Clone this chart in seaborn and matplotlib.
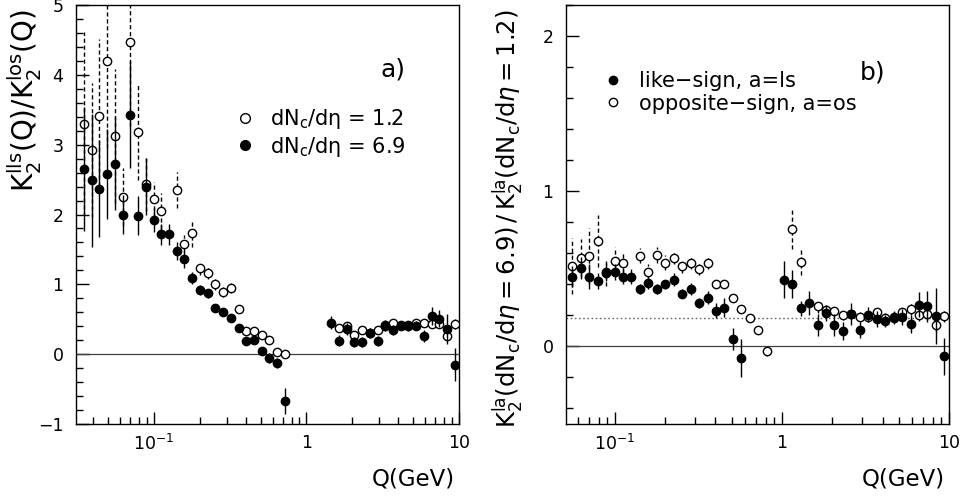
import numpy as np
import pandas as pd
import matplotlib
matplotlib.use("Agg")
import matplotlib.pyplot as plt
import seaborn as sns
from matplotlib.lines import Line2D
from matplotlib.ticker import (FixedLocator, FixedFormatter, LogLocator,
                               MultipleLocator, NullFormatter)

nan = np.nan

# Q bin centres (GeV)
Q = [0.0348, 0.0391, 0.0439, 0.0494, 0.0555, 0.0623, 0.0701, 0.0787, 0.0885,
     0.0994, 0.1117, 0.1255, 0.1410, 0.1585, 0.1781, 0.2001, 0.2249, 0.2527,
     0.2839, 0.3190, 0.3585, 0.4029, 0.4527, 0.5087, 0.5716, 0.6423, 0.7218,
     0.8111, 0.9114, 1.024, 1.151, 1.293, 1.453, 1.633, 1.835, 2.062, 2.317,
     2.603, 2.925, 3.287, 3.694, 4.151, 4.664, 5.241, 5.890, 6.618, 7.437,
     8.357, 9.391]

# ---- panel a) : K2^lls / K2^los ----
a_low = [3.30, 2.92, 3.41, 4.20, 3.13, 2.25, 4.47, 3.18, 2.44, 2.22, 2.05, nan,
         2.35, 1.58, 1.73, 1.23, 1.16, 1.00, 0.89, 0.95, 0.64, 0.33, 0.33, 0.28,
         0.20, 0.03, 0.00, nan, nan, nan, nan, nan, nan, 0.37, 0.40, 0.27, 0.35,
         0.31, 0.35, 0.40, 0.45, 0.42, 0.42, 0.45, 0.45, 0.43, 0.43, 0.26, 0.43]
a_low_err = [1.32, 0.96, 1.10, 1.25, 0.96, 0.41, 1.20, 0.68, 0.39, 0.25, 0.26, nan,
             0.26, 0.12, 0.19, 0.10, 0.09, 0.08, 0.07, 0.07, 0.05, 0.04, 0.04, 0.04,
             0.04, 0.04, 0.04, nan, nan, nan, nan, nan, nan, 0.05, 0.05, 0.05, 0.05,
             0.05, 0.05, 0.05, 0.05, 0.05, 0.05, 0.05, 0.05, 0.05, 0.05, 0.07, 0.07]
a_high = [2.65, 2.49, 2.37, 2.58, 2.73, 2.00, 3.43, 1.98, 2.40, 1.92, 1.72, 1.72,
          1.48, 1.36, 1.09, 0.92, 0.87, 0.66, 0.61, 0.52, 0.37, 0.19, 0.21, 0.05,
          -0.06, -0.13, -0.67, nan, nan, nan, nan, nan, 0.45, 0.19, 0.36, 0.17,
          0.17, 0.305, 0.19, 0.415, 0.35, 0.41, 0.40, 0.41, 0.26, 0.55, 0.51,
          0.36, -0.15]
a_high_err = [0.89, 0.95, 0.69, 0.65, 0.66, 0.28, 0.77, 0.28, 0.41, 0.17, 0.15, 0.15,
              0.13, 0.12, 0.09, 0.07, 0.07, 0.05, 0.05, 0.05, 0.04, 0.04, 0.04, 0.05,
              0.07, 0.07, 0.19, nan, nan, nan, nan, nan, 0.09, 0.08, 0.08, 0.07,
              0.07, 0.07, 0.07, 0.08, 0.07, 0.07, 0.07, 0.07, 0.08, 0.13, 0.12,
              0.22, 0.24]

# ---- panel b) : K2^la(6.9) / K2^la(1.2) ----
b_ls = [nan, nan, nan, nan, 0.45, 0.505, 0.45, 0.42, 0.48, 0.48, 0.45, 0.45,
        0.37, 0.41, 0.37, 0.40, 0.43, 0.34, 0.37, 0.28, 0.315, 0.23, 0.25, 0.05,
        -0.075, nan, nan, nan, nan, 0.43, 0.40, 0.245, 0.28, 0.14, 0.215, 0.14,
        0.10, 0.21, 0.105, 0.205, 0.175, 0.165, 0.185, 0.19, 0.145, 0.27, 0.26,
        0.195, -0.065]
b_ls_err = [nan, nan, nan, nan, 0.07, 0.07, 0.08, 0.05, 0.06, 0.05, 0.05, 0.05,
            0.03, 0.04, 0.03, 0.03, 0.04, 0.03, 0.04, 0.03, 0.04, 0.05, 0.06, 0.07,
            0.12, nan, nan, nan, nan, 0.12, 0.09, 0.05, 0.08, 0.07, 0.05, 0.07,
            0.06, 0.07, 0.05, 0.05, 0.05, 0.04, 0.04, 0.05, 0.06, 0.08, 0.10,
            0.18, 0.12]
b_os = [nan, nan, nan, nan, 0.52, 0.57, 0.585, 0.68, 0.47, 0.55, 0.54, nan,
        0.585, 0.48, 0.59, 0.54, 0.57, 0.515, 0.54, 0.50, 0.54, 0.405, 0.40, 0.31,
        0.24, 0.185, 0.108, -0.032, nan, nan, 0.756, 0.543, nan, 0.258, 0.236,
        0.225, 0.20, 0.21, 0.19, 0.19, 0.219, 0.185, 0.19, 0.22, 0.243, 0.205,
        0.21, 0.14, 0.196]
b_os_err = [nan, nan, nan, nan, 0.18, 0.12, 0.18, 0.17, 0.08, 0.09, 0.06, nan,
            0.05, 0.05, 0.05, 0.05, 0.04, 0.04, 0.04, 0.04, 0.04, 0.02, 0.02, 0.02,
            0.02, 0.02, 0.02, 0.03, nan, nan, 0.13, 0.08, nan, 0.04, 0.03, 0.03,
            0.03, 0.03, 0.03, 0.03, 0.03, 0.03, 0.03, 0.03, 0.04, 0.04, 0.04, 0.05,
            0.04]
b_ref_level = 0.18

sns.set_theme(style="ticks")
plt.rcParams['font.family'] = ['DejaVu Sans']
plt.rcParams['mathtext.fontset'] = 'dejavusans'
plt.rcParams['axes.edgecolor'] = 'black'
plt.rcParams['axes.linewidth'] = 1.0
plt.rcParams['xtick.color'] = 'black'
plt.rcParams['ytick.color'] = 'black'
plt.rcParams['text.color'] = 'black'
plt.rcParams['axes.labelcolor'] = 'black'

fig = plt.figure(figsize=(9.64, 5.01), dpi=100)
fig.patch.set_facecolor('white')
axA = fig.add_axes([0.0788, 0.1537, 0.3973, 0.8363])
axB = fig.add_axes([0.5871, 0.1537, 0.3973, 0.8363])

DASH = (0, (3.0, 2.0))


def draw(ax, y, e, filled, dashed, z):
    df = pd.DataFrame({'Q': Q, 'y': y, 'e': e}).dropna()
    ax.vlines(df['Q'], df['y'] - df['e'], df['y'] + df['e'], colors='black',
              linestyles=[DASH if dashed else 'solid'], linewidth=1.0, zorder=z)
    sns.scatterplot(data=df, x='Q', y='y', ax=ax, marker='o', s=36,
                    color='black' if filled else 'white', edgecolor='black',
                    linewidth=1.0, zorder=z + 0.5, legend=False)


for ax in (axA, axB):
    ax.set_facecolor('white')
    ax.set_xscale('log')

draw(axA, a_low, a_low_err, filled=False, dashed=True, z=3)
draw(axA, a_high, a_high_err, filled=True, dashed=False, z=4)
draw(axB, b_os, b_os_err, filled=False, dashed=True, z=3)
draw(axB, b_ls, b_ls_err, filled=True, dashed=False, z=4)

axA.axhline(0, color='0.25', lw=0.9, zorder=1)
axB.axhline(0, color='0.25', lw=0.9, zorder=1)
axB.axhline(b_ref_level, color='0.4', lw=1.0, ls=(0, (1.2, 1.8)), zorder=1)

axA.set_xlim(0.0308, 10)
axA.set_ylim(-1, 5)
axB.set_xlim(0.0509, 10)
axB.set_ylim(-0.5, 2.2)

for ax in (axA, axB):
    ax.xaxis.set_major_locator(FixedLocator([0.1, 1, 10]))
    ax.xaxis.set_major_formatter(FixedFormatter([r'$10^{-1}$', '1', '10']))
    ax.xaxis.set_minor_locator(LogLocator(base=10, subs=np.arange(2, 10) * 1.0, numticks=20))
    ax.xaxis.set_minor_formatter(NullFormatter())
    ax.yaxis.set_major_locator(MultipleLocator(1))
    ax.yaxis.set_minor_locator(MultipleLocator(0.2))
    ax.tick_params(which='both', direction='in', top=False, right=False,
                   labelsize=12.5, width=1.0)
    ax.tick_params(which='major', length=9)
    ax.tick_params(which='minor', length=5)
    ax.tick_params(axis='y', pad=9)
    ax.tick_params(axis='x', pad=7)
    for sp in ax.spines.values():
        sp.set_color('black')
        sp.set_linewidth(1.0)
    ax.grid(False)
    ax.set_xlabel('Q(GeV)', fontsize=16.5, loc='right')
    ax.xaxis.set_label_coords(0.99, -0.103)

axA.set_ylabel(r'$\mathrm{K_2^{lls}(Q)/K_2^{los}(Q)}$', fontsize=20, loc='top')
axA.yaxis.set_label_coords(-0.084, 0.99)
axB.set_ylabel(r'$\mathrm{K_2^{la}(dN_c/d}\eta{=}\mathrm{6.9)\,/\,K_2^{la}(dN_c/d}\eta{=}\mathrm{1.2)}$',
               fontsize=17.5, loc='top')
axB.yaxis.set_label_coords(-0.104, 0.99)

axA.text(0.828, 0.845, 'a)', transform=axA.transAxes, fontsize=18,
         ha='center', va='center')
axB.text(0.80, 0.84, 'b)', transform=axB.transAxes, fontsize=18,
         ha='center', va='center')

openh = dict(marker='o', ls='none', markerfacecolor='white', markeredgecolor='black',
             markeredgewidth=1.0)
fillh = dict(marker='o', ls='none', markerfacecolor='black', markeredgecolor='black',
             markeredgewidth=1.0)

hA = [Line2D([], [], markersize=7, **openh), Line2D([], [], markersize=7, **fillh)]
axA.legend(hA, ['dN$_\\mathrm{c}$/dη = 1.2', 'dN$_\\mathrm{c}$/dη = 6.9'],
           loc='upper left', bbox_to_anchor=(0.420, 0.757), frameon=False,
           fontsize=15, handlelength=0.8, handletextpad=0.8, borderpad=0,
           borderaxespad=0, labelspacing=0.18)

hB = [Line2D([], [], markersize=6, **fillh), Line2D([], [], markersize=6, **openh)]
axB.legend(hB, ['like\u2212sign, a=ls', 'opposite\u2212sign, a=os'],
           loc='upper left', bbox_to_anchor=(0.1018, 0.842), frameon=False,
           fontsize=15, handlelength=0.8, handletextpad=0.85, borderpad=0,
           borderaxespad=0, labelspacing=0.12)

fig.savefig('out.png', dpi=100, facecolor='white')
